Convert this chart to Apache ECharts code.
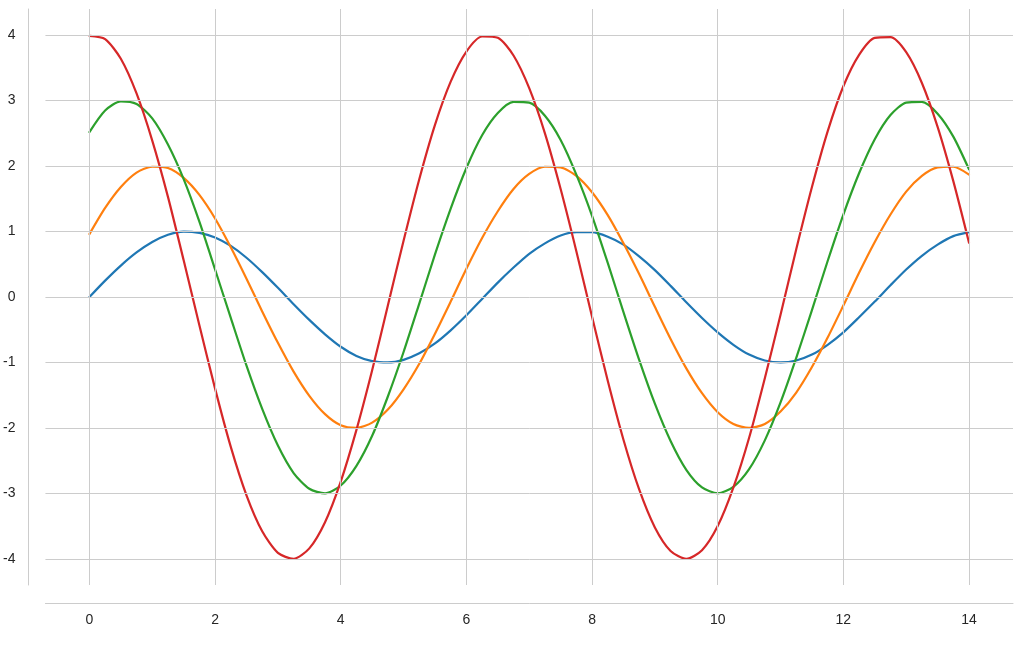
<!DOCTYPE html>
<html>
<head>
<meta charset="utf-8">
<script src="https://cdn.jsdelivr.net/npm/echarts@6/dist/echarts.min.js"></script>
<style>html,body{margin:0;padding:0;background:#fff}#c{width:1031px;height:649px}</style>
</head>
<body>
<div id="c"></div>
<script>
const xs = [0,0.25,0.5,0.75,1,1.25,1.5,1.75,2,2.25,2.5,2.75,3,3.25,3.5,3.75,4,4.25,4.5,4.75,5,5.25,5.5,5.75,6,6.25,6.5,6.75,7,7.25,7.5,7.75,8,8.25,8.5,8.75,9,9.25,9.5,9.75,10,10.25,10.5,10.75,11,11.25,11.5,11.75,12,12.25,12.5,12.75,13,13.25,13.5,13.75,14];
const blue = [0,0.25,0.48,0.68,0.84,0.95,1.00,0.98,0.91,0.78,
  0.60,0.38,0.14,-0.11,-0.35,-0.57,-0.76,-0.90,-0.98,-1.00,
  -0.96,-0.86,-0.71,-0.51,-0.28,-0.03,0.22,0.45,0.66,0.82,
  0.94,0.99,0.99,0.92,0.80,0.62,0.41,0.17,-0.08,-0.32,
  -0.54,-0.73,-0.88,-0.97,-1.00,-0.97,-0.88,-0.73,-0.54,-0.31,
  -0.07,0.18,0.42,0.63,0.80,0.93,0.99];
const orange = [0.96,1.36,1.68,1.90,1.99,1.97,1.82,1.56,1.20,0.76,
  0.28,-0.22,-0.70,-1.14,-1.51,-1.79,-1.96,-2.00,-1.92,-1.72,
  -1.41,-1.02,-0.56,-0.07,0.43,0.90,1.31,1.65,1.88,1.99,
  1.98,1.85,1.60,1.25,0.82,0.35,-0.15,-0.64,-1.09,-1.47,
  -1.76,-1.94,-2.00,-1.94,-1.75,-1.46,-1.07,-0.62,-0.13,0.37,
  0.84,1.26,1.61,1.85,1.98,1.99,1.87];
const green = [2.52,2.85,2.99,2.95,2.73,2.33,1.80,1.15,0.42,-0.32,
  -1.05,-1.71,-2.27,-2.69,-2.93,-3.00,-2.88,-2.58,-2.12,-1.52,
  -0.84,-0.10,0.65,1.35,1.97,2.47,2.81,2.98,2.97,2.77,
  2.40,1.87,1.24,0.52,-0.23,-0.96,-1.63,-2.20,-2.64,-2.91,
  -3.00,-2.90,-2.63,-2.19,-1.61,-0.93,-0.20,0.55,1.26,1.89,
  2.41,2.78,2.97,2.98,2.80,2.45,1.95];
const red = [3.99,3.94,3.64,3.11,2.39,1.53,0.56,-0.43,-1.40,-2.29,
  -3.03,-3.58,-3.91,-4.00,-3.84,-3.44,-2.82,-2.03,-1.12,-0.13,
  0.86,1.80,2.63,3.29,3.75,3.98,3.96,3.69,3.19,2.50,
  1.65,0.70,-0.30,-1.28,-2.18,-2.94,-3.52,-3.88,-4.00,-3.87,
  -3.50,-2.91,-2.15,-1.24,-0.27,0.73,1.68,2.53,3.22,3.70,
  3.96,3.97,3.74,3.27,2.60,1.77,0.83];
const xTicks = [0,2,4,6,8,10,12,14];
const yTicks = [-4,-3,-2,-1,0,1,2,3,4];
const names = ['sin 1','sin 2','sin 3','sin 4'];
const colors = ['#1f77b4','#ff7f0e','#2ca02c','#d62728'];
const all = [blue, orange, green, red];

const chart = echarts.init(document.getElementById('c'), null, {renderer:'canvas'});
const axisText = {color:'#262626', fontSize:14, fontFamily:'Liberation Sans, Arial, sans-serif'};
chart.setOption({
  animation:false,
  backgroundColor:'#ffffff',
  grid:{left:45, right:18, top:9, bottom:64},
  xAxis:{
    type:'value', min:-0.7, max:14.7, offset:18,
    axisLine:{show:true, onZero:false, lineStyle:{color:'#cccccc', width:1}},
    axisTick:{show:false},
    axisLabel:Object.assign({margin:10, customValues:xTicks}, axisText),
    splitLine:{show:false}
  },
  yAxis:{
    type:'value', min:-4.4, max:4.4, offset:17,
    axisLine:{show:true, onZero:false, lineStyle:{color:'#cccccc', width:1}},
    axisTick:{show:false},
    axisLabel:Object.assign({margin:13, customValues:yTicks}, axisText),
    splitLine:{show:false}
  },
  series: all.map((d,i)=>({
    name:names[i], type:'line', smooth:0.25, symbol:'none',
    data: xs.map((x,j)=>[x,d[j]]),
    lineStyle:{color:colors[i], width:2.2, join:'round', cap:'round'}, itemStyle:{color:colors[i]}, z:3
  })).concat([
    {type:'line', data:[], silent:true,
     markLine:{silent:true, symbol:'none', label:{show:false}, animation:false,
       lineStyle:{color:'#cccccc', width:1, type:'solid'},
       data: xTicks.map(v=>({xAxis:v})).concat(yTicks.map(v=>({yAxis:v})))}, z:1}
  ])
});
</script>
</body>
</html>
